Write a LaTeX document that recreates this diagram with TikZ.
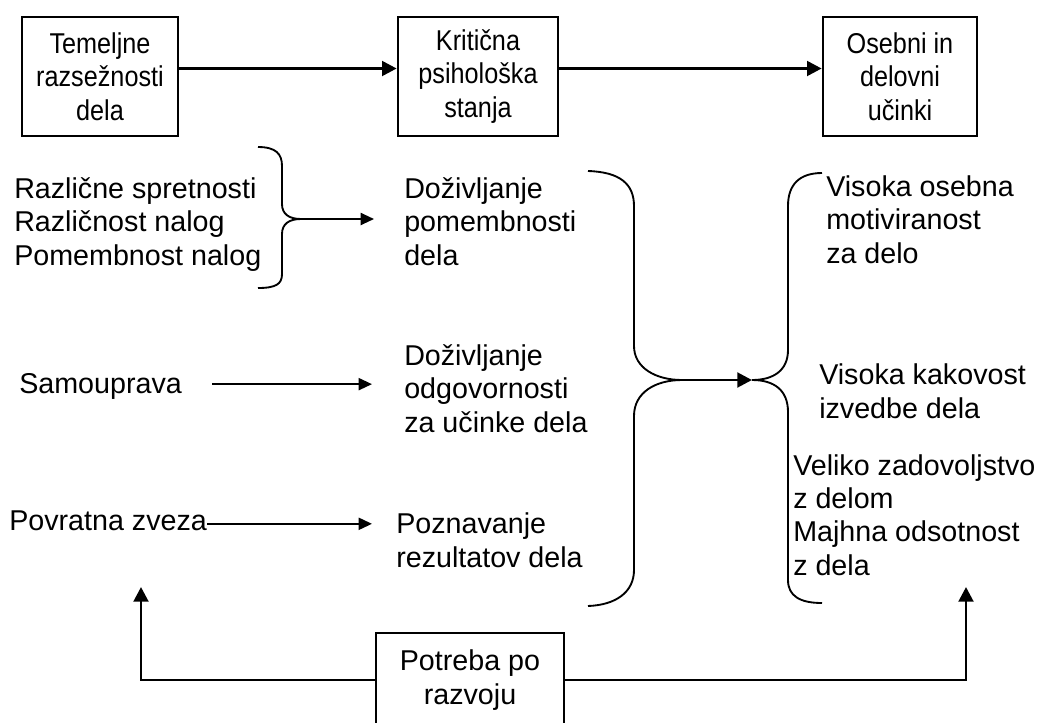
\documentclass[tikz,border=0pt]{standalone}
\usepackage{fontspec}
\setmainfont{Liberation Sans}
\newfontfamily\boxfont{Liberation Sans}[FakeStretch=0.88]
\usetikzlibrary{
    arrows.meta,
    positioning
}

\begin{document}
\begin{tikzpicture}[
    x=0.75pt,
    y=-0.75pt,
    font=\fontsize{21.5pt}{25pt}\selectfont,
    mainbox/.style={
        draw,
        line width=2pt,
        align=center,
        minimum height=89.25pt,
        inner sep=0pt
    },
    stagebox/.style={
        mainbox,
        font=\boxfont\fontsize{21.5pt}{25pt}\selectfont
    },
    plaintext/.style={
        align=left,
        inner sep=0pt,
        anchor=base west
    },
    bigarrow/.style={
        -{Triangle[length=11pt,width=11pt]},
        line width=2.2pt
    },
    thinarrow/.style={
        -{Triangle[length=10pt,width=9pt]},
        line width=1.5pt
    },
    bracket/.style={
        line width=1.4pt
    }
]
\useasboundingbox (0,0) rectangle (1043,722);

\node[
    stagebox,
    minimum width=117pt
] (dims) at (100,76.5) {
    Temeljne\\
    razsežnosti\\
    dela
};

\node[
    stagebox,
    minimum width=120pt
] (states) at (478,76.5) {
    Kritična\\
    psihološka\\
    stanja
};

\node[
    stagebox,
    minimum width=115.5pt
] (results) at (900,76.5) {
    Osebni in\\
    delovni\\
    učinki
};

\node[plaintext] (skills) at (14,265) {
    Različne spretnosti\\
    Različnost nalog\\
    Pomembnost nalog
};

\node[plaintext] (samo) at (19,393) {Samouprava};

\node[plaintext] (povr) at (9,530) {Povratna zveza};

\node[plaintext] (dpom) at (404,265) {
    Doživljanje\\
    pomembnosti\\
    dela
};

\node[plaintext] (dodg) at (404,432) {
    Doživljanje\\
    odgovornosti\\
    za učinke dela
};

\node[plaintext] (pozn) at (396,567) {
    Poznavanje\\
    rezultatov dela
};

\node[plaintext] (motiv) at (826,263) {
    Visoka osebna\\
    motiviranost\\
    za delo
};

\node[plaintext] (quality) at (819,418) {
    Visoka kakovost\\
    izvedbe dela
};

\node[plaintext] (satis) at (793,575) {
    Veliko zadovoljstvo\\
    z delom\\
    Majhna odsotnost\\
    z dela
};

\node[
    mainbox,
    minimum width=141pt,
    minimum height=70.5pt
] (need) at (470,680) {
    Potreba po\\
    razvoju
};

\coordinate (lbrace) at (301,219);
\coordinate (join) at (682,380);
\coordinate (split) at (752,380);
\coordinate (lup) at (141,587);
\coordinate (rup) at (966,587);

\draw[bigarrow] ([yshift=6pt]dims.east) -- ([yshift=6pt]states.west);
\draw[bigarrow] ([yshift=6pt]states.east) -- ([yshift=6pt]results.west);

\draw[bracket] (258,147) .. controls (276,147) and (282,154) .. (282,166)
    -- (282,204) .. controls (282,214) and (289,219) .. (lbrace)
    .. controls (289,219) and (282,224) .. (282,234)
    -- (282,274) .. controls (282,284) and (276,288) .. (258,288);

\draw[bracket] (588,171) .. controls (620,172) and (634,184) .. (634,206)
    -- (634,346) .. controls (634,368) and (656,380) .. (join)
    .. controls (656,380) and (634,392) .. (634,416)
    -- (634,570) .. controls (634,592) and (616,605) .. (588,606);

\draw[bracket] (822,173) .. controls (800,173) and (788,184) .. (788,206)
    -- (788,350) .. controls (788,370) and (774,380) .. (split)
    .. controls (774,380) and (788,390) .. (788,412)
    -- (788,580) .. controls (788,596) and (800,603) .. (822,603);

\draw[thinarrow, shorten >=22.5pt] (lbrace) -- (lbrace -| dpom.west);
\draw[thinarrow, shorten <=22.5pt, shorten >=24pt] ([yshift=4pt]samo.mid east) -- ([yshift=4pt]samo.mid east -| dodg.west);
\draw[thinarrow, shorten >=18pt] ([yshift=2pt]povr.mid east) -- ([yshift=2pt]povr.mid east -| pozn.west);
\draw[bigarrow] (join) -- (split);

\draw[bigarrow] (need.west) -| (lup);
\draw[bigarrow] (need.east) -| (rup);

\end{tikzpicture}
\end{document}
